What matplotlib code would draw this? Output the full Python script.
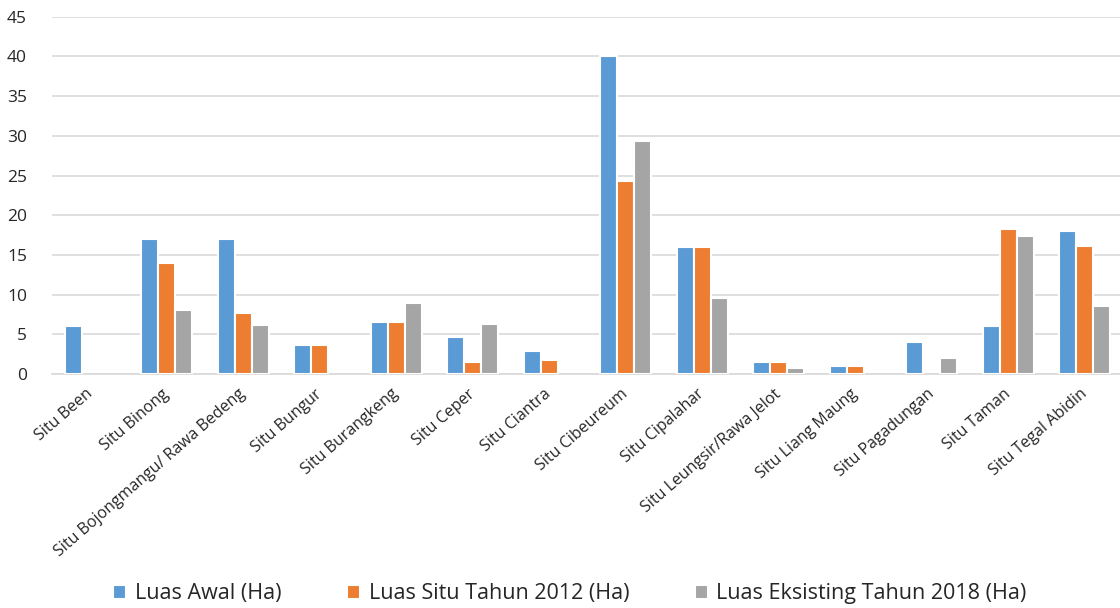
import matplotlib
matplotlib.use("Agg")
import matplotlib.pyplot as plt
import numpy as np

categories = ["Situ Been", "Situ Binong", "Situ Bojongmangu/ Rawa Bedeng", "Situ Bungur",
              "Situ Burangkeng", "Situ Ceper", "Situ Ciantra", "Situ Cibeureum",
              "Situ Cipalahar", "Situ Leungsir/Rawa Jelot", "Situ Liang Maung",
              "Situ Pagadungan", "Situ Taman", "Situ Tegal Abidin"]
luas_awal = [6, 17, 17, 3.7, 6.5, 4.7, 2.9, 40, 16, 1.5, 1.0, 4.0, 6, 18]
luas_2012 = [0, 14, 7.7, 3.7, 6.5, 1.5, 1.8, 24.3, 16, 1.5, 1.0, 0, 18.2, 16.1]
luas_2018 = [0, 8, 6.2, 0, 9, 6.3, 0, 29.3, 9.6, 0.7, 0, 2.0, 17.4, 8.6]
series_names = ["Luas Awal (Ha)", "Luas Situ Tahun 2012 (Ha)", "Luas Eksisting Tahun 2018 (Ha)"]
yticks = [0, 5, 10, 15, 20, 25, 30, 35, 40, 45]

colors = ["#5B9BD5", "#ED7D31", "#A5A5A5"]
plt.rcParams['font.family'] = ['Open Sans', 'DejaVu Sans']

fig = plt.figure(figsize=(11.2, 6.08), dpi=100)
ax = fig.add_axes([52/1120, 1-374/608, (1071)/1120, (374-16.7)/608])

x = np.arange(len(categories))
w = 0.222
for i, (vals, name) in enumerate(zip([luas_awal, luas_2012, luas_2018], series_names)):
    v = np.array(vals, dtype=float)
    v = np.where(v > 0, v, np.nan)
    ax.bar(x + (i-1)*w, v, width=w, color=colors[i], edgecolor='white', linewidth=1.5,
           label=name, zorder=3)

ax.set_xlim(-0.5, len(categories)-0.5)
ax.set_ylim(0, 45)
ax.set_yticks(yticks)
ax.set_yticklabels([str(v) for v in yticks], fontsize=12.5, color='#262626')
ax.yaxis.grid(True, color='#d9d9d9', linewidth=1.2, zorder=0)
for s in ['top', 'right', 'left']:
    ax.spines[s].set_visible(False)
ax.spines['bottom'].set_color('#d9d9d9')
ax.spines['bottom'].set_linewidth(1.2)
ax.tick_params(axis='y', length=0, pad=18)
ax.tick_params(axis='x', length=0, pad=13)
ax.set_xticks(x)
ax.set_xticklabels(categories, rotation=41, ha='right', va='center', rotation_mode='anchor',
                   fontsize=11.5, color='#262626')

leg = fig.legend(loc='center', bbox_to_anchor=(570/1120, 1-594/608), ncol=3, frameon=False,
                 fontsize=15.5, handlelength=0.6, handleheight=0.6, columnspacing=3.05,
                 handletextpad=0.4)
for t in leg.get_texts():
    t.set_color('#262626')

fig.savefig("out.png", dpi=100)
